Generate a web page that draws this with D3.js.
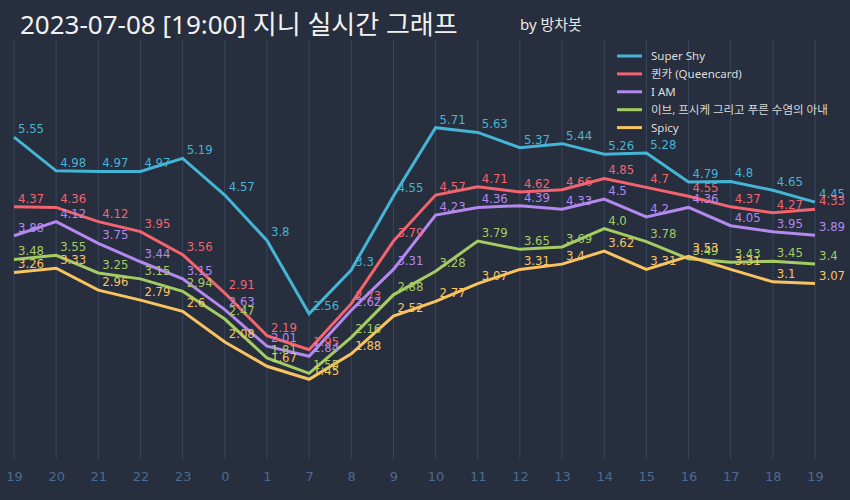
<!DOCTYPE html>
<html><head><meta charset="utf-8">
<script src="https://cdn.jsdelivr.net/npm/d3@7"></script>
<style>html,body{margin:0;padding:0;background:#272e3d;}svg{display:block;}</style>
</head><body>
<script>
const hours = ["19","20","21","22","23","0","1","7","8","9","10","11","12","13","14","15","16","17","18","19"];
const seriesNames = ["Super Shy","퀸카 (Queencard)","I AM","이브, 프시케 그리고 푸른 수염의 아내","Spicy"];
const seriesColors = ["#45b5d5","#f4646f","#b388ef","#a4cc62","#f9c460"];
const superShy = [5.55,4.98,4.97,4.97,5.19,4.57,3.8,2.56,3.3,4.55,5.71,5.63,5.37,5.44,5.26,5.28,4.79,4.8,4.65,4.45];
const queencard = [4.37,4.36,4.12,3.95,3.56,2.91,2.19,1.95,2.73,3.79,4.57,4.71,4.62,4.66,4.85,4.7,4.55,4.37,4.27,4.33];
const iAm = [3.88,4.12,3.75,3.44,3.15,2.63,2.01,1.84,2.62,3.31,4.23,4.36,4.39,4.33,4.5,4.2,4.36,4.05,3.95,3.89];
const eve = [3.48,3.55,3.25,3.15,2.94,2.47,1.81,1.55,2.16,2.88,3.28,3.79,3.65,3.69,4.0,3.78,3.49,3.43,3.45,3.4];
const spicy = [3.26,3.33,2.96,2.79,2.6,2.08,1.67,1.45,1.88,2.52,2.77,3.07,3.31,3.4,3.62,3.31,3.53,3.31,3.1,3.07];
const allSeries = [superShy, queencard, iAm, eve, spicy];

const W = 850, H = 500;
const svg = d3.select("body").append("svg").attr("width", W).attr("height", H);
svg.append("rect").attr("width", W).attr("height", H).attr("fill", "#272e3d");

const idx = d3.range(hours.length);
const x = d3.scalePoint().domain(idx).range([14, 815]);
const y = d3.scaleLinear().domain([0, 5.71]).range([464.9, 127.7]);

// gridlines
svg.append("g").selectAll("line").data(idx).join("line")
  .attr("x1", d => x(d)).attr("x2", d => x(d))
  .attr("y1", 40).attr("y2", 459)
  .attr("stroke", "#37465f").attr("stroke-width", 1);

// x axis
const xAxis = d3.axisBottom(x).tickFormat(i => hours[i]).tickSize(0).tickPadding(0);
const gx = svg.append("g").attr("transform", "translate(0,470)").call(xAxis);
gx.select(".domain").remove();
gx.selectAll("text").attr("fill", "#4b6b93").attr("font-family", "DejaVu Sans")
  .attr("font-size", 13).attr("dy", "0.71em").attr("y", 2);

const line = d3.line().x((d, i) => x(i)).y(d => y(d));
svg.append("g").selectAll("path").data(allSeries).join("path")
  .attr("d", d => line(d)).attr("fill", "none")
  .attr("stroke", (d, i) => seriesColors[i]).attr("stroke-width", 3)
  .attr("stroke-linejoin", "miter");

const fmt = v => Number.isInteger(v) ? v.toFixed(1) : String(v);
allSeries.forEach((s, si) => {
  svg.append("g").selectAll("text").data(s).join("text")
    .attr("x", (d, i) => x(i) + 4).attr("y", d => y(d) - 4)
    .attr("fill", seriesColors[si]).attr("font-family", "DejaVu Sans Condensed")
    .attr("font-size", 13).text(fmt);
});

// legend
const lg = svg.append("g");
seriesNames.forEach((n, i) => {
  const yy = 56 + i * 17.9;
  lg.append("line").attr("x1", 617).attr("x2", 642).attr("y1", yy).attr("y2", yy)
    .attr("stroke", seriesColors[i]).attr("stroke-width", 3);
  lg.append("text").attr("x", 651).attr("y", yy).attr("dy", "0.35em")
    .attr("fill", "#dcdcdc").attr("font-family", "'Noto Sans', 'Noto Sans CJK KR'").attr("font-size", 11.5).text(n);
});

// title
svg.append("text").attr("x", 20).attr("y", 34).attr("fill", "#f2f2f2")
  .attr("font-family", "'Noto Sans', 'Noto Sans CJK KR'").attr("font-size", 26).text("2023-07-08 [19:00] 지니 실시간 그래프");
svg.append("text").attr("x", 520).attr("y", 30).attr("fill", "#e8e8e8")
  .attr("font-family", "'Noto Sans', 'Noto Sans CJK KR'").attr("font-size", 15).text("by 방차봇");
</script>
</body></html>
